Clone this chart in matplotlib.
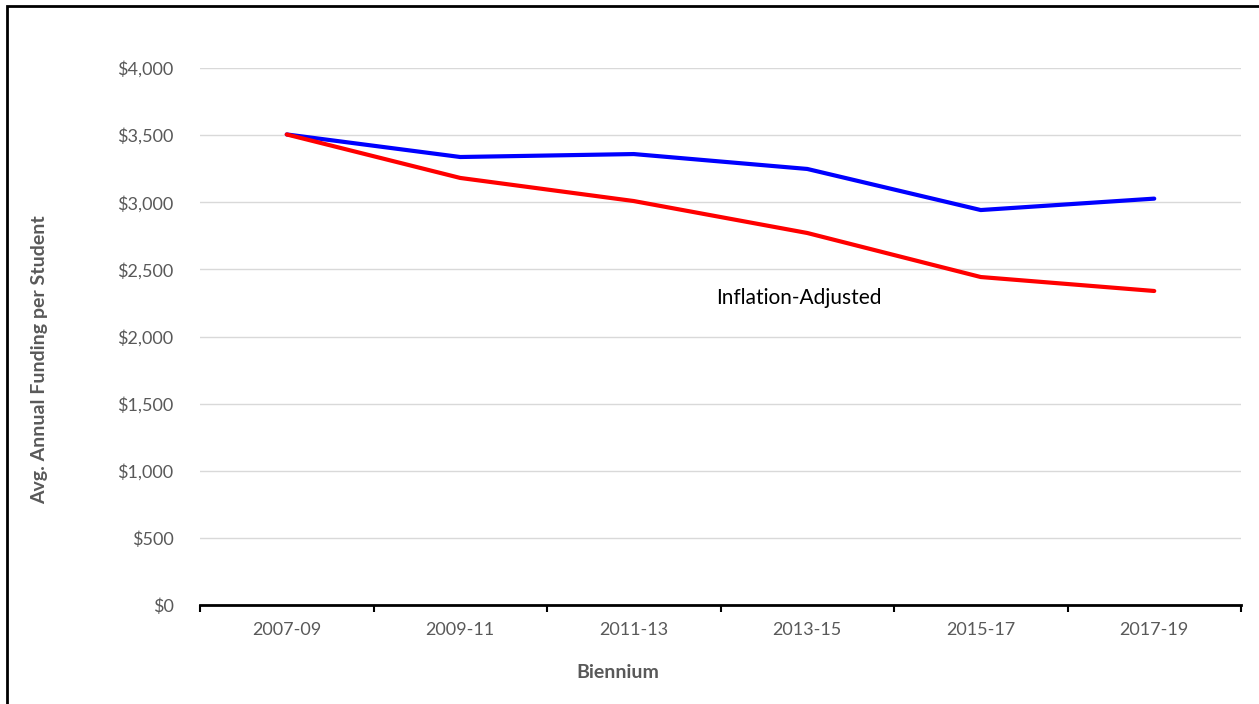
import matplotlib.pyplot as plt
from matplotlib.patches import Rectangle
from matplotlib.ticker import FuncFormatter

plt.rcParams['font.family'] = ['Lato', 'DejaVu Sans']

biennium = ['2007-09', '2009-11', '2011-13', '2013-15', '2015-17', '2017-19']
nominal = [3505, 3337, 3359, 3248, 2942, 3027]
inflation_adjusted = [3505, 3181, 3009, 2771, 2443, 2339]

grey = '#595959'

fig = plt.figure(figsize=(12.59, 7.04), dpi=100)
ax = fig.add_axes([200 / 1259, 1 - 605 / 704, (1241 - 200) / 1259, (605 - 68) / 704])

x = list(range(len(biennium)))
ax.plot(x, nominal, color='#0000ff', lw=3, solid_capstyle='round', zorder=3)
ax.plot(x, inflation_adjusted, color='#ff0000', lw=3, solid_capstyle='round', zorder=3)

ax.set_xlim(-0.5, len(biennium) - 0.5)
ax.set_ylim(0, 4000)
ax.set_yticks(range(0, 4001, 500))
ax.yaxis.set_major_formatter(FuncFormatter(lambda v, p: f'${v:,.0f}'))
ax.grid(axis='y', color='#d9d9d9', lw=1)
ax.set_axisbelow(True)

ax.set_xticks(x)
ax.set_xticklabels(biennium)
ax.set_xticks([i - 0.5 for i in range(len(biennium) + 1)], minor=True)
ax.tick_params(axis='x', which='major', length=0, pad=12, labelsize=13, labelcolor=grey)
ax.tick_params(axis='x', which='minor', length=5, width=1.5, color='black', direction='out')
ax.tick_params(axis='y', length=0, pad=19, labelsize=13, labelcolor=grey)

for s in ['top', 'right', 'left']:
    ax.spines[s].set_visible(False)
ax.spines['bottom'].set_linewidth(2)
ax.spines['bottom'].set_color('black')

fig.text(618 / 1259, 1 - 673 / 704, 'Biennium', fontsize=14, fontweight='bold',
         color=grey, ha='center', va='center')
fig.text(40 / 1259, 1 - 360 / 704, 'Avg. Annual Funding per Student', fontsize=14,
         fontweight='bold', color=grey, ha='center', va='center', rotation=90)

ax.text(2.95, 2290, 'Inflation-Adjusted', fontsize=15, color='black',
        ha='center', va='center')

fig.patches.append(Rectangle((7 / 1259, -0.1), 1.2, 1 - 6 / 704 + 0.1,
                             transform=fig.transFigure, fill=False,
                             edgecolor='black', lw=2))

fig.savefig('out.png', dpi=100)
